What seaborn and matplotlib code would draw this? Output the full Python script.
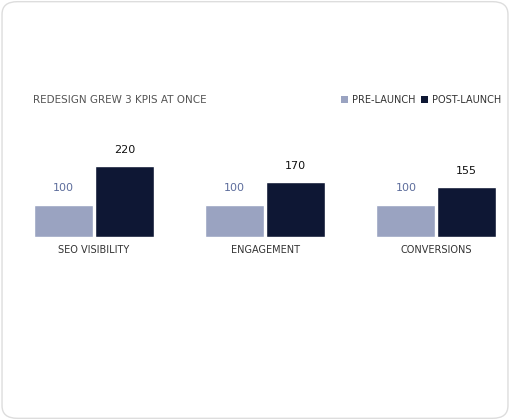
import matplotlib
matplotlib.use("Agg")
import matplotlib.pyplot as plt
from matplotlib.patches import FancyBboxPatch, Rectangle
import seaborn as sns
import pandas as pd

categories = ["SEO VISIBILITY", "ENGAGEMENT", "CONVERSIONS"]
pre_values = [100, 100, 100]
post_values = [220, 170, 155]
series = ["PRE-LAUNCH", "POST-LAUNCH"]
colors = {"PRE-LAUNCH": "#9aa3c1", "POST-LAUNCH": "#0e1734"}
label_colors = {"PRE-LAUNCH": "#5d6d9c", "POST-LAUNCH": "#111111"}

df = pd.DataFrame({
    "kpi": categories * 2,
    "series": [series[0]] * 3 + [series[1]] * 3,
    "value": pre_values + post_values,
})

sns.set_theme(style="white")
plt.rcParams["font.family"] = ["Liberation Sans Narrow", "DejaVu Sans"]

fig = plt.figure(figsize=(5.1, 4.2), dpi=100)
card = FancyBboxPatch((0.004, 0.004), 0.992, 0.992,
                      boxstyle="round,pad=0,rounding_size=0.03",
                      transform=fig.transFigure, facecolor="white",
                      edgecolor="#dddddd", linewidth=1, zorder=-10)
fig.patches.append(card)

ax = fig.add_axes([0.065, 0.436, 0.91, 0.231], zorder=5)
sns.barplot(data=df, x="kpi", y="value", hue="series", palette=colors,
            width=0.71, gap=0.03, ax=ax, legend=False, saturation=1)
ax.set_xlim(-0.356, 2.356)
ax.set_ylim(0, 300)
ax.set_xlabel("")
ax.set_ylabel("")
ax.set_yticks([])
ax.tick_params(axis="x", length=0, pad=6, labelsize=7, labelcolor="#333333")
for s in ax.spines.values():
    s.set_visible(False)
ax.patch.set_alpha(0)

for cont, name in zip(ax.containers, series):
    ax.bar_label(cont, padding=8, fontsize=8, color=label_colors[name])

fig.text(0.065, 0.762, "REDESIGN GREW 3 KPIS AT ONCE", fontsize=7.5,
         color="#555555", va="center")

# legend
lx = [0.668, 0.826]
for x, name in zip(lx, series):
    fig.patches.append(Rectangle((x, 0.755), 0.014, 0.017, transform=fig.transFigure,
                                 facecolor=colors[name], edgecolor="none"))
    fig.text(x + 0.022, 0.762, name, fontsize=7, color="#333333", va="center")

fig.savefig("out.png", dpi=100)
